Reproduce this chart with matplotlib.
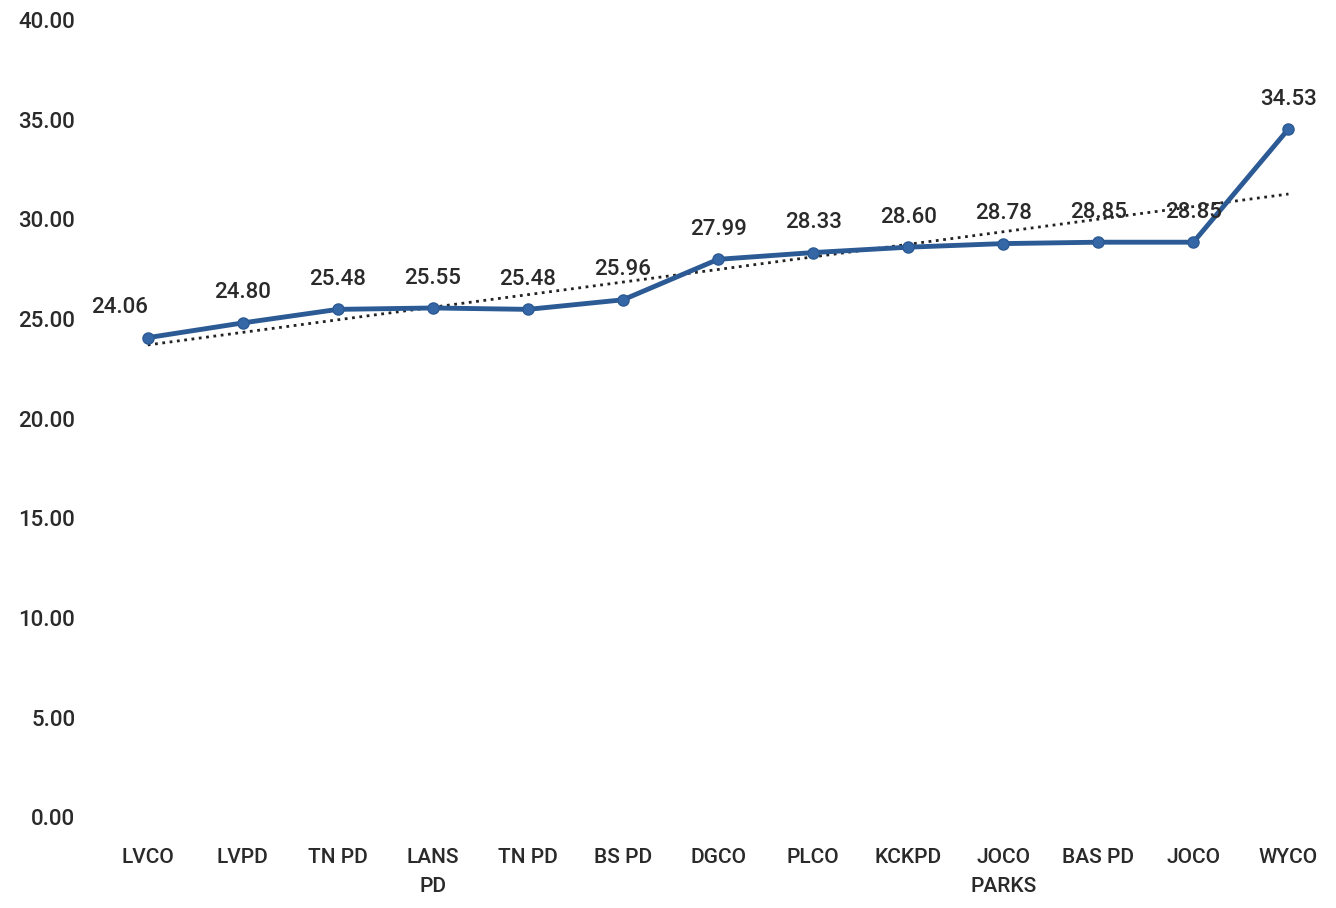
import numpy as np
import matplotlib.pyplot as plt

plt.rcParams['font.family'] = ['Roboto', 'Liberation Sans', 'DejaVu Sans']

# --- datos ---
categorias = ['LVCO', 'LVPD', 'TN PD', 'LANS\nPD', 'TN PD', 'BS PD', 'DGCO',
              'PLCO', 'KCKPD', 'JOCO\nPARKS', 'BAS PD', 'JOCO', 'WYCO']
valores = np.array([24.06, 24.80, 25.48, 25.55, 25.48, 25.96, 27.99,
                    28.33, 28.60, 28.78, 28.85, 28.85, 34.53])
y_ticks = [0, 5, 10, 15, 20, 25, 30, 35, 40]

x = np.arange(len(categorias))

# linea de tendencia (ajuste lineal)
m, b = np.polyfit(x, valores, 1)
tendencia = m * x + b

fig = plt.figure(figsize=(13.36, 9.08), dpi=100)
ax = fig.add_axes([0.075, 0.10, 0.925, 0.878])

ax.plot(x, tendencia, linestyle=':', color='#222222', lw=2, zorder=2)
ax.plot(x, valores, color='#2b5a94', lw=3.5, marker='o', markersize=8,
        markerfacecolor='#3566a6', markeredgecolor='#2b5a94', zorder=3)

for xi, v in zip(x, valores):
    dx = -0.3 if xi == 0 else 0
    ax.annotate(f'{v:.2f}', (xi + dx, v), xytext=(0, 14), textcoords='offset points',
                ha='center', va='bottom', fontsize=16, color='#2a2a2a',
                fontweight='medium')

ax.set_xlim(-0.5, 12.5)
ax.set_ylim(0, 40)
ax.set_yticks(y_ticks)
ax.set_yticklabels([f'{t:.2f}' for t in y_ticks], fontsize=16, color='#2a2a2a',
                   fontweight='medium')
ax.set_xticks(x)
ax.set_xticklabels(categorias, fontsize=15, color='#2a2a2a', fontweight='medium',
                   linespacing=1.7, va='top')
ax.tick_params(axis='both', length=0)
ax.tick_params(axis='y', pad=18)
ax.tick_params(axis='x', pad=22)
for s in ax.spines.values():
    s.set_visible(False)

plt.savefig('out.png', dpi=100)
